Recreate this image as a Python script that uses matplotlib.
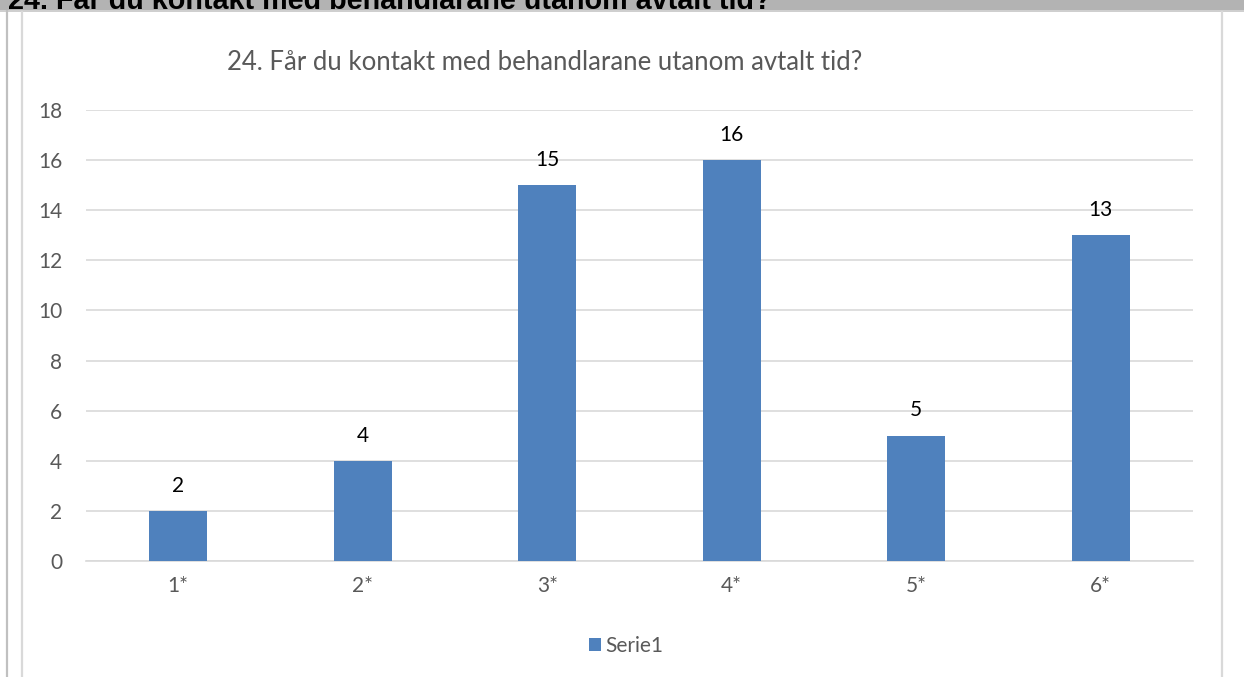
import matplotlib.pyplot as plt
from matplotlib.patches import Rectangle
from matplotlib.lines import Line2D

categories = ['1*', '2*', '3*', '4*', '5*', '6*']
values = [2, 4, 15, 16, 5, 13]
title = '24. Får du kontakt med behandlarane utanom avtalt tid?'
series_name = 'Serie1'

W, H = 1244, 677
fig = plt.figure(figsize=(W / 100, H / 100), dpi=100)
fig.patch.set_facecolor('white')
plt.rcParams['font.family'] = ['Lato', 'DejaVu Sans']

# grey header band with the clipped heading text
fig.patches.append(Rectangle((0, 1 - 11 / H), 1, 11 / H, transform=fig.transFigure,
                             facecolor='#b3b3b3', edgecolor='none', zorder=0))
fig.patches.append(Rectangle((0, 1 - 12 / H), 1, 1.5 / H, transform=fig.transFigure,
                             facecolor='#cfcfcf', edgecolor='none', zorder=0))
fig.text(8 / W, 1 - 9 / H, title, fontsize=20.7, fontweight='bold', color='black',
         ha='left', va='baseline', family=['Liberation Sans', 'DejaVu Sans'])

# frame lines
fig.lines.append(Line2D([7.5 / W, 7.5 / W], [0, 1 - 11 / H], transform=fig.transFigure,
                        color='#c0c0c0', lw=1.6))
fig.lines.append(Line2D([21.5 / W, 21.5 / W], [0, 1 - 12 / H], transform=fig.transFigure,
                        color='#d9d9d9', lw=1.6))
fig.lines.append(Line2D([1221.5 / W, 1221.5 / W], [0, 1 - 12 / H], transform=fig.transFigure,
                        color='#d9d9d9', lw=1.6))

x0, x1 = 86, 1193
y_top, y_bot = 110, 561
ax = fig.add_axes([x0 / W, 1 - y_bot / H, (x1 - x0) / W, (y_bot - y_top) / H])
ax.set_facecolor('none')

pos = range(len(categories))
bars = ax.bar(pos, values, width=0.315, color='#4f81bd', zorder=3, label=series_name)
for p, v in zip(pos, values):
    ax.annotate(str(v), (p, v), xytext=(0, 11), textcoords='offset points',
                ha='center', va='bottom', fontsize=15, color='black')

ax.set_xlim(-0.5, len(categories) - 0.5)
ax.set_ylim(0, 18)
ax.set_yticks(range(0, 19, 2))
ax.set_xticks(list(pos))
ax.set_xticklabels(categories)
ax.yaxis.grid(True, color='#d9d9d9', lw=1.2, zorder=0)
ax.tick_params(length=0, labelsize=15, labelcolor='#595959')
ax.tick_params(axis='y', pad=17)
ax.tick_params(axis='x', pad=11)
for s in ['top', 'right', 'left']:
    ax.spines[s].set_visible(False)
ax.spines['bottom'].set_color('#d9d9d9')
ax.spines['bottom'].set_linewidth(1.2)

fig.text(545 / W, 1 - 63 / H, title, fontsize=18.5, color='#595959', ha='center', va='center')

leg = fig.legend(handles=[bars], labels=[series_name], loc='center',
                 bbox_to_anchor=(626 / W, 1 - 646 / H), frameon=False, fontsize=15,
                 handlelength=0.6, handleheight=0.6, handletextpad=0.2)
for t in leg.get_texts():
    t.set_color('#595959')

fig.savefig('out.png', dpi=100)
